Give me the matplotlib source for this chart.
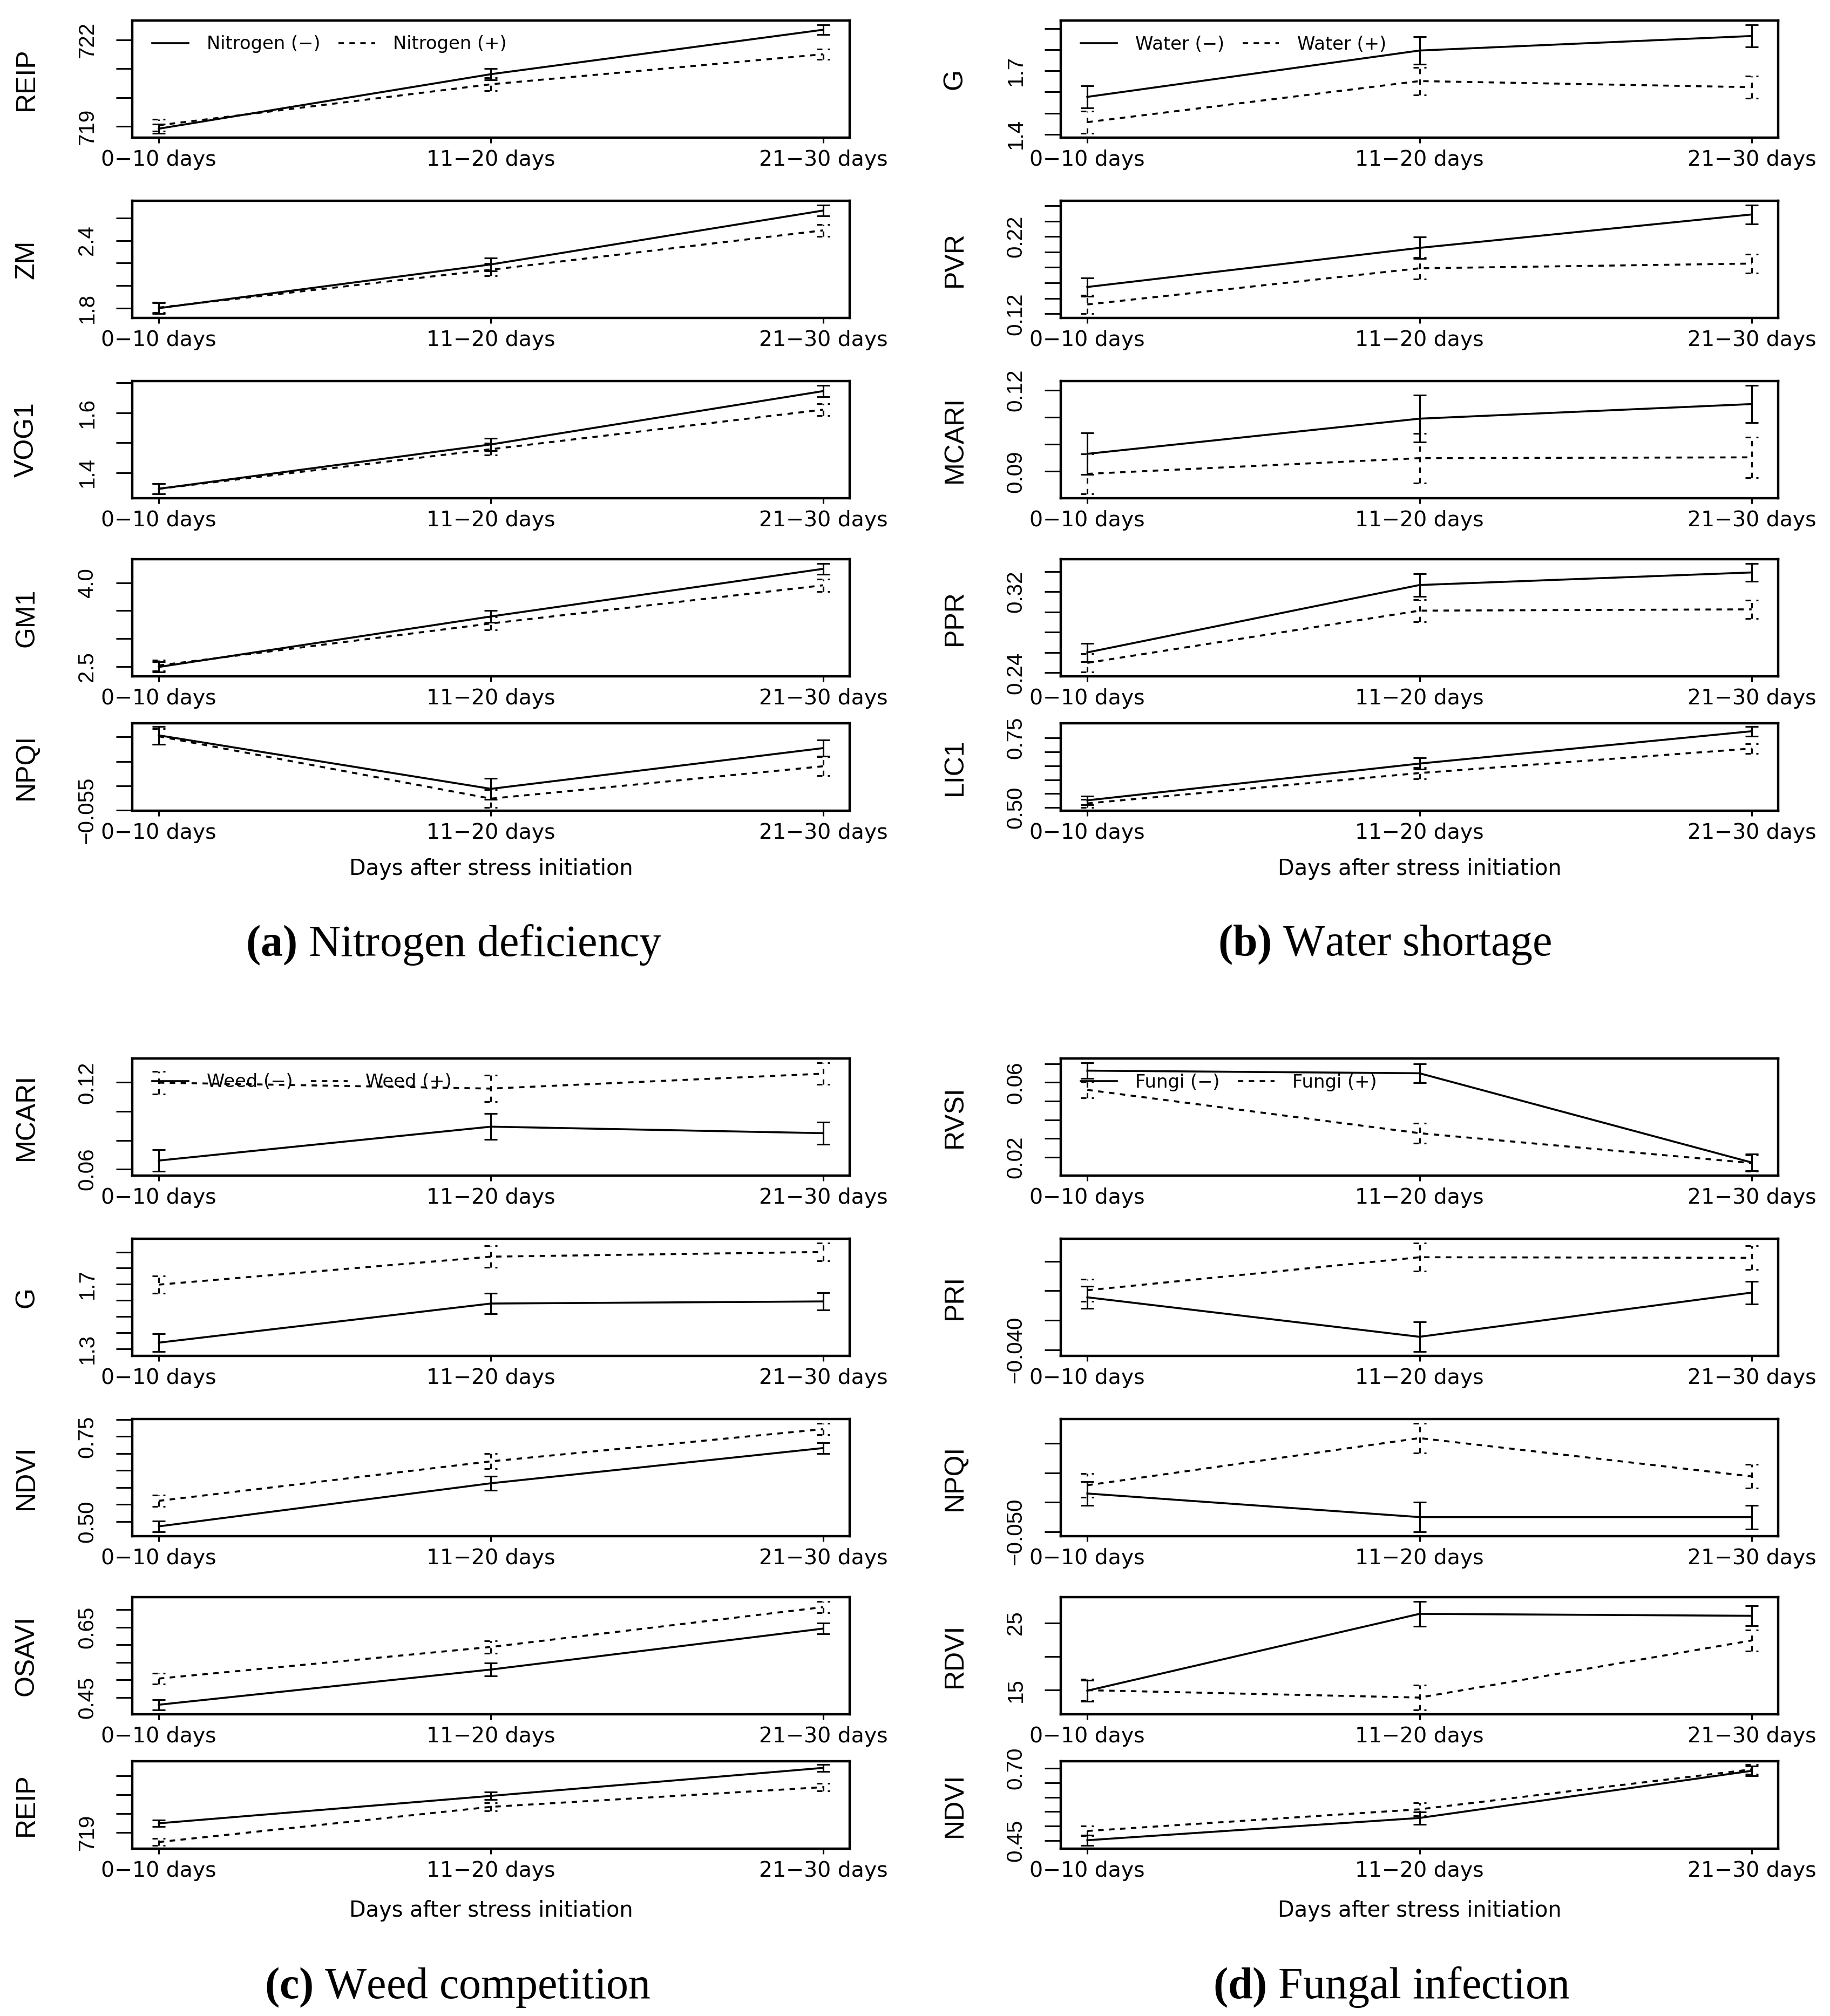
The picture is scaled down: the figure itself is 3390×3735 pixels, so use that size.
import numpy as np
import matplotlib
matplotlib.use("Agg")
import matplotlib.pyplot as plt
from matplotlib import font_manager as fm
from matplotlib.path import Path

# ---------------------------------------------------------------- data
periods = ["0\u221210 days", "11\u221220 days", "21\u221230 days"]

# (a) Nitrogen deficiency
a_names = ["REIP", "ZM", "VOG1", "GM1", "NPQI"]
a_minus = [[718.92, 720.81, 722.35], [1.800, 2.188, 2.666], [1.346, 1.494, 1.672],
           [2.49, 3.396, 4.25], [-0.0397, -0.0506, -0.0423]]
a_minus_se = [[0.16, 0.20, 0.17], [0.048, 0.058, 0.048], [0.017, 0.021, 0.019],
              [0.09, 0.11, 0.095], [0.0018, 0.0021, 0.0017]]
a_plus = [[719.04, 720.46, 721.50], [1.805, 2.141, 2.49], [1.346, 1.478, 1.61],
          [2.517, 3.27, 3.955], [-0.0399, -0.0526, -0.046]]
a_plus_se = [[0.20, 0.22, 0.18], [0.045, 0.055, 0.052], [0.017, 0.020, 0.019],
             [0.10, 0.12, 0.11], [0.0016, 0.0018, 0.0019]]
a_ticks = [[719, 720, 721, 722], [1.8, 2.0, 2.2, 2.4, 2.6], [1.4, 1.5, 1.6, 1.7],
           [2.5, 3.0, 3.5, 4.0], [-0.055, -0.050, -0.045, -0.040]]
a_ticklabels = [["719", "", "", "722"], ["1.8", "", "", "2.4", ""], ["1.4", "", "1.6", ""],
                ["2.5", "", "", "4.0"], ["\u22120.055", "", "", ""]]

# (b) Water shortage
b_names = ["G", "PVR", "MCARI", "PPR", "LIC1"]
b_minus = [[1.577, 1.797, 1.866], [0.1547, 0.2053, 0.2485], [0.0965, 0.1095, 0.1149],
           [0.2601, 0.3266, 0.339], [0.526, 0.658, 0.774]]
b_minus_se = [[0.053, 0.065, 0.053], [0.0118, 0.0138, 0.0121], [0.0077, 0.0087, 0.0069],
              [0.009, 0.011, 0.0088], [0.0156, 0.021, 0.017]]
b_plus = [[1.457, 1.652, 1.623], [0.1321, 0.1789, 0.1850], [0.0891, 0.0949, 0.0952],
          [0.2498, 0.3013, 0.3026], [0.515, 0.624, 0.712]]
b_plus_se = [[0.053, 0.065, 0.053], [0.0118, 0.0138, 0.0121], [0.0074, 0.0092, 0.0075],
             [0.009, 0.011, 0.009], [0.0146, 0.020, 0.0175]]
b_ticks = [[1.4, 1.5, 1.6, 1.7, 1.8, 1.9], [0.12, 0.14, 0.16, 0.18, 0.20, 0.22, 0.24, 0.26],
           [0.09, 0.10, 0.11, 0.12], [0.24, 0.26, 0.28, 0.30, 0.32, 0.34],
           [0.50, 0.55, 0.60, 0.65, 0.70, 0.75]]
b_ticklabels = [["1.4", "", "", "1.7", "", ""], ["0.12", "", "", "", "", "0.22", "", ""],
                ["0.09", "", "", "0.12"], ["0.24", "", "", "", "0.32", ""],
                ["0.50", "", "", "", "", "0.75"]]

# (c) Weed competition
c_names = ["MCARI", "G", "NDVI", "OSAVI", "REIP"]
c_minus = [[0.066, 0.0894, 0.0849], [1.339, 1.581, 1.594], [0.486, 0.6126, 0.716],
           [0.4297, 0.5297, 0.646], [719.48, 720.93, 722.41]]
c_minus_se = [[0.0074, 0.009, 0.0075], [0.055, 0.064, 0.054], [0.016, 0.021, 0.016],
              [0.0148, 0.018, 0.0152], [0.18, 0.20, 0.18]]
c_plus = [[0.1198, 0.1157, 0.126], [1.698, 1.871, 1.90], [0.561, 0.677, 0.7715],
          [0.504, 0.5938, 0.707], [718.49, 720.35, 721.39]]
c_plus_se = [[0.0078, 0.0092, 0.0075], [0.054, 0.067, 0.055], [0.017, 0.022, 0.017],
             [0.0156, 0.018, 0.016], [0.18, 0.21, 0.19]]
c_ticks = [[0.06, 0.08, 0.10, 0.12], [1.3, 1.4, 1.5, 1.6, 1.7, 1.8, 1.9],
           [0.50, 0.55, 0.60, 0.65, 0.70, 0.75, 0.80], [0.45, 0.50, 0.55, 0.60, 0.65, 0.70],
           [719, 720, 721, 722]]
c_ticklabels = [["0.06", "", "", "0.12"], ["1.3", "", "", "", "1.7", "", ""],
                ["0.50", "", "", "", "", "0.75", ""], ["0.45", "", "", "", "0.65", ""],
                ["719", "", "", ""]]

# (d) Fungal infection
d_names = ["RVSI", "PRI", "NPQI", "RDVI", "NDVI"]
d_minus = [[0.0663, 0.0649, 0.0171], [-0.0311, -0.0378, -0.0303], [-0.0435, -0.0475, -0.0475],
           [14.92, 26.35, 26.06], [0.451, 0.528, 0.691]]
d_minus_se = [[0.0042, 0.0051, 0.0044], [0.0019, 0.0025, 0.0019], [0.0020, 0.0025, 0.0020],
              [1.59, 1.84, 1.49], [0.018, 0.0216, 0.0168]]
d_plus = [[0.056, 0.0328, 0.0168], [-0.0299, -0.0243, -0.0244], [-0.0421, -0.0341, -0.0406],
          [15.0, 13.9, 22.39], [0.483, 0.558, 0.696]]
d_plus_se = [[0.0044, 0.0054, 0.0044], [0.0019, 0.0024, 0.0020], [0.0020, 0.0025, 0.0020],
             [1.60, 1.84, 1.57], [0.017, 0.0216, 0.017]]
d_ticks = [[0.02, 0.03, 0.04, 0.05, 0.06, 0.07], [-0.040, -0.035, -0.030, -0.025],
           [-0.050, -0.045, -0.040, -0.035], [15, 20, 25],
           [0.45, 0.50, 0.55, 0.60, 0.65, 0.70]]
d_ticklabels = [["0.02", "", "", "", "0.06", ""], ["\u22120.040", "", "", ""],
                ["\u22120.050", "", "", ""], ["15", "", "25"],
                ["0.45", "", "", "", "", "0.70"]]

legend_labels = [("Nitrogen (\u2212)", "Nitrogen (+)"), ("Water (\u2212)", "Water (+)"),
                 ("Weed (\u2212)", "Weed (+)"), ("Fungi (\u2212)", "Fungi (+)")]
captions = [r"$\mathbf{(a)}$ Nitrogen deficiency", r"$\mathbf{(b)}$ Water shortage",
            r"$\mathbf{(c)}$ Weed competition", r"$\mathbf{(d)}$ Fungal infection"]
xlabel_text = "Days after stress initiation"

# ---------------------------------------------------------------- fonts
def has_font(name):
    try:
        fm.findfont(fm.FontProperties(family=name), fallback_to_default=False)
        return True
    except Exception:
        return False

plt.rcParams["font.family"] = ["DejaVu Sans"]
plt.rcParams["mathtext.fontset"] = "custom"
plt.rcParams["mathtext.rm"] = "Liberation Serif"
plt.rcParams["mathtext.bf"] = "Liberation Serif:bold"

if has_font("Liberation Sans Narrow"):
    ROT_FAMILY = ["Liberation Sans Narrow", "DejaVu Sans"]
    YTICK_SIZE, YLAB_SIZE = 35, 43
else:
    ROT_FAMILY = ["Liberation Sans", "DejaVu Sans"]
    YTICK_SIZE, YLAB_SIZE = 29, 36

XTICK_SIZE = 28.4
XLAB_SIZE = 28.7
LEG_SIZE = 24.3
CAP_SIZE = 59

# ---------------------------------------------------------------- layout
W, H = 3390, 3735
fig = plt.figure(figsize=(W / 100, H / 100), dpi=100)

col_left = [245, 1965]
ax_w = 1329
row_tops = [38, 372, 706, 1036, 1340]
row_h = [217, 217, 217, 217, 162]
half_off = [0, 1923]
xlabel_y = [1610, 3540]
caption_y = [1750, 3682]
caption_x = [841, 2565, 848, 2578]

LW = 2.6
ELW = 2.2
CAPSZ = 8.6
DASH = (0, (2.8, 2.8))
EDASH = (0, (3.2, 3.2))
half_cap = Path([(-1, 0), (-0.17, 0), (0.67, 0), (1, 0)],
                [Path.MOVETO, Path.LINETO, Path.MOVETO, Path.LINETO])

panels = [
    (0, 0, a_names, a_minus, a_minus_se, a_plus, a_plus_se, a_ticks, a_ticklabels),
    (1, 0, b_names, b_minus, b_minus_se, b_plus, b_plus_se, b_ticks, b_ticklabels),
    (0, 1, c_names, c_minus, c_minus_se, c_plus, c_plus_se, c_ticks, c_ticklabels),
    (1, 1, d_names, d_minus, d_minus_se, d_plus, d_plus_se, d_ticks, d_ticklabels),
]

x = np.arange(1, len(periods) + 1)

for p, (col, half, names, mn, mn_se, pl, pl_se, ticks, tlabels) in enumerate(panels):
    left = col_left[col]
    for r in range(5):
        top = row_tops[r] + half_off[half]
        h = row_h[r]
        ax = fig.add_axes([left / W, 1 - (top + h) / H, ax_w / W, h / H])
        m, ms = np.array(mn[r]), np.array(mn_se[r])
        q, qs = np.array(pl[r]), np.array(pl_se[r])

        e1 = ax.errorbar(x, m, yerr=ms, color="black", lw=LW, elinewidth=ELW,
                         capsize=CAPSZ, capthick=ELW, zorder=3)
        e2 = ax.errorbar(x, q, yerr=qs, color="black", lw=LW, ls=DASH, elinewidth=ELW,
                         capsize=CAPSZ, capthick=ELW, zorder=3)
        e2[2][0].set_linestyle(EDASH)
        for cap in e2[1]:
            cap.set_marker(half_cap)
            cap.set_markerfacecolor("none")

        lo = min((m - ms).min(), (q - qs).min())
        hi = max((m + ms).max(), (q + qs).max())
        pad = 0.04 * (hi - lo)
        ax.set_xticks(x, periods)
        ax.set_yticks(ticks[r], tlabels[r])
        ax.set_xlim(1 - 0.04 * 2, 3 + 0.04 * 2)
        ax.set_ylim(lo - pad, hi + pad)

        for s in ax.spines.values():
            s.set_linewidth(3.2)
        ax.tick_params(axis="y", direction="out", length=21.5, width=2.2, pad=25,
                       labelsize=YTICK_SIZE, labelrotation=90)
        ax.tick_params(axis="x", direction="out", length=7.5, width=2.2, pad=8,
                       labelsize=XTICK_SIZE)
        for lab in ax.get_yticklabels():
            lab.set_fontfamily(ROT_FAMILY)
            lab.set_va("center")
        for lab in ax.get_xticklabels():
            lab.set_fontfamily(["DejaVu Sans"])

        ax.set_ylabel(names[r], fontsize=YLAB_SIZE, family=ROT_FAMILY)
        ax.yaxis.set_label_coords(-196 / ax_w, 0.5)
        ax.yaxis.label.set_va("center")

        if r == 0:
            ax.legend([e1[0], e2[0]], legend_labels[p], loc="upper left",
                      bbox_to_anchor=(23 / ax_w, 1 - 14 / h), borderaxespad=0,
                      borderpad=0.4, ncol=2, frameon=False, fontsize=LEG_SIZE,
                      handlelength=2.0, handletextpad=1.0, columnspacing=1.0)

    fig.text((left + ax_w / 2) / W, 1 - xlabel_y[half] / H, xlabel_text,
             fontsize=XLAB_SIZE, ha="center", va="center", family=["DejaVu Sans"])
    fig.text(caption_x[p] / W, 1 - caption_y[half] / H, captions[p],
             fontsize=CAP_SIZE, ha="center", va="center", family=["Liberation Serif"])

fig.savefig("out.png", dpi=100)
